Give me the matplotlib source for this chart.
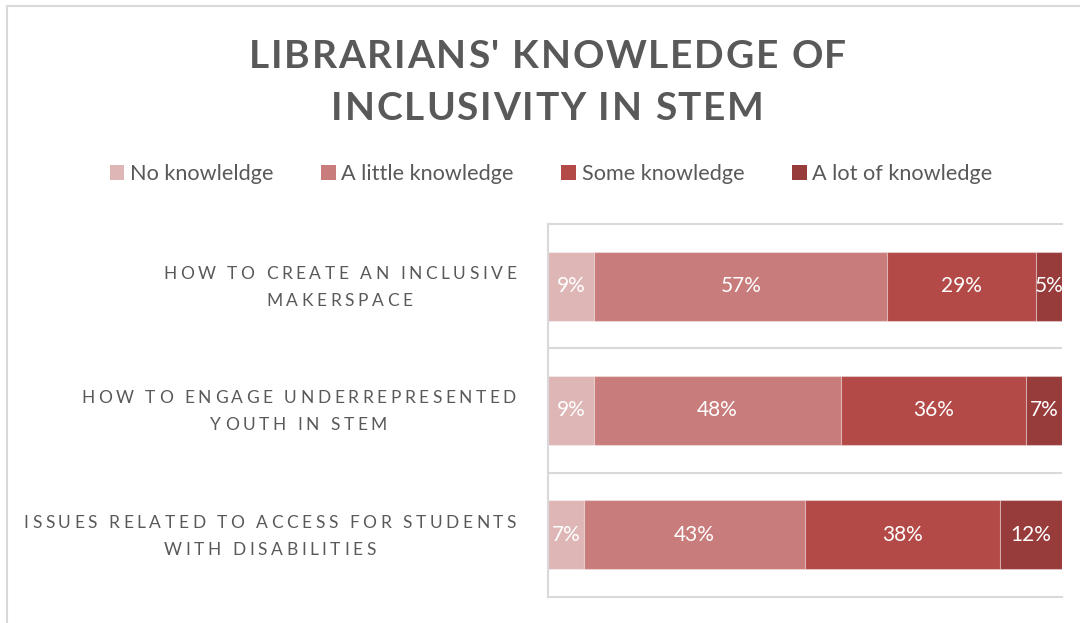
import matplotlib
matplotlib.use("Agg")
import matplotlib.pyplot as plt
from matplotlib.text import Text
from matplotlib.font_manager import FontProperties, findfont, get_font
from matplotlib.transforms import IdentityTransform, Bbox, offset_copy
from matplotlib.patches import Patch, Rectangle

# ---- data -------------------------------------------------------------
title = "LIBRARIANS' KNOWLEDGE OF\nINCLUSIVITY IN STEM"
categories = [
    "HOW TO CREATE AN INCLUSIVE\nMAKERSPACE",
    "HOW TO ENGAGE UNDERREPRESENTED\nYOUTH IN STEM",
    "ISSUES RELATED TO ACCESS FOR STUDENTS\nWITH DISABILITIES",
]
series_names = ["No knowleldge", "A little knowledge", "Some knowledge", "A lot of knowledge"]
no_knowledge = [9, 9, 7]
a_little = [57, 48, 43]
some = [29, 36, 38]
a_lot = [5, 7, 12]
series_values = [no_knowledge, a_little, some, a_lot]
series_colors = ["#DFB6B6", "#C97C7C", "#B34A48", "#983B3B"]

TEXT_GREY = "#595959"
LINE_GREY = "#D9D9D9"
FONT = "Lato"


class TrackedText(Text):
    """Multi-line text with extra letter spacing; each line is centred in the block."""

    def __init__(self, x, y, text, tracking=0.0, block_ha="center", line_pitch=None, **kw):
        kw.setdefault("ha", block_ha)
        kw.setdefault("va", "center")
        kw.setdefault("multialignment", "center")
        super().__init__(x, y, text, **kw)
        self._tracking = tracking
        self._block_ha = block_ha
        self._line_pitch = line_pitch

    def _advances(self, line, dpi):
        fp = self.get_fontproperties()
        font = get_font(findfont(fp))
        font.set_size(fp.get_size_in_points(), dpi)
        return [font.load_char(ord(ch)).linearHoriAdvance / 65536 for ch in line]

    def _glyph_layout(self, dpi):
        fp = self.get_fontproperties()
        px = fp.get_size_in_points() * dpi / 72
        pitch = self._line_pitch if self._line_pitch is not None else 1.35 * px
        x0, y0 = self.get_transform().transform(self.get_unitless_position())
        lines = self.get_text().split("\n")
        advs = [self._advances(ln, dpi) for ln in lines]
        widths = [sum(a) + self._tracking * (len(a) - 1) for a in advs]
        block = max(widths)
        if self._block_ha == "right":
            left = x0 - block
        elif self._block_ha == "left":
            left = x0
        else:
            left = x0 - block / 2
        cap = 0.7165 * px
        n = len(lines)
        glyphs = []
        for i, (ln, a, w) in enumerate(zip(lines, advs, widths)):
            base = y0 + (n - 1) / 2 * pitch - i * pitch - cap / 2
            x = left + (block - w) / 2
            for ch, adv in zip(ln, a):
                if not ch.isspace():
                    glyphs.append((x, base, ch))
                x += adv + self._tracking
        top = y0 + (n - 1) / 2 * pitch + cap / 2
        bottom = y0 - (n - 1) / 2 * pitch - cap / 2 - 0.2 * px
        return glyphs, Bbox([[left, bottom], [left + block, top]])

    def get_window_extent(self, renderer=None, dpi=None):
        fig = self.get_figure(root=True)
        if dpi is None:
            dpi = fig.dpi
        return self._glyph_layout(dpi)[1]

    def draw(self, renderer):
        if not self.get_visible() or not self.get_text():
            return
        fig = self.get_figure(root=True)
        fp = self.get_fontproperties()
        glyphs, _ = self._glyph_layout(renderer.dpi)
        for x, base, ch in glyphs:
            t = Text(x, base, ch, transform=IdentityTransform(),
                     fontproperties=fp, color=self.get_color(),
                     ha="left", va="baseline")
            t.set_figure(fig)
            t.draw(renderer)


W, H = 1080, 623
fig = plt.figure(figsize=(W / 100, H / 100), dpi=100)
fig.patch.set_facecolor("white")

# chart area outline
fig.add_artist(Rectangle((7 / W, -0.1), 1.2, (H - 6) / H + 0.1, transform=fig.transFigure,
                         fill=False, edgecolor=LINE_GREY, lw=1.5))

ax = fig.add_axes([548 / W, (H - 597) / H, 514 / W, 373 / H])
ypos = list(range(len(categories)))
left = [0] * len(categories)
for name, vals, col in zip(series_names, series_values, series_colors):
    bars = ax.barh(ypos, vals, left=left, height=0.556, color=col,
                   edgecolor=(1, 1, 1, 0.35), linewidth=0.8, label=name)
    ax.bar_label(bars, labels=[f"{v}%" for v in vals], label_type="center",
                 color="white", fontsize=15, fontfamily=FONT)
    left = [l + v for l, v in zip(left, vals)]

ax.set_xlim(0, 100)
ax.set_ylim(len(categories) - 0.5, -0.5)
ax.set_xticks([])
ax.set_yticks(ypos)
ax.set_yticklabels([])
ax.tick_params(axis="y", length=0)
ax.set_yticks([i + 0.5 for i in ypos[:-1]], minor=True)
ax.tick_params(axis="y", which="minor", length=0)
ax.grid(which="minor", axis="y", color=LINE_GREY, lw=1.5)
for side in ("top", "bottom", "left"):
    ax.spines[side].set_color(LINE_GREY)
    ax.spines[side].set_linewidth(1.5)
ax.spines["right"].set_visible(False)

# category labels, right-aligned just left of the axis
label_tf = offset_copy(ax.get_yaxis_transform(), fig=fig, x=-32, y=0, units="dots")
for i, cat in zip(ypos, categories):
    fig.add_artist(TrackedText(0, i, cat, tracking=3.55, block_ha="right", line_pitch=27,
                               transform=label_tf, color=TEXT_GREY,
                               fontproperties=FontProperties(family=FONT, size=12.5)))

# title
fig.add_artist(TrackedText(547.5 / W, 1 - 80 / H, title, tracking=1.8, block_ha="center",
                           line_pitch=52.5, transform=fig.transFigure, color=TEXT_GREY,
                           fontproperties=FontProperties(family=FONT, size=28, weight="bold")))

# legend
handles = [Patch(facecolor=c, edgecolor="none") for c in series_colors]
fig.legend(handles, series_names, loc="center", bbox_to_anchor=(551 / W, 1 - 174 / H),
           ncol=4, frameon=False, handlelength=0.68, handleheight=0.68,
           handletextpad=0.25, columnspacing=2.2, labelcolor=TEXT_GREY,
           prop=FontProperties(family=FONT, size=15.6))

fig.savefig("out.png", dpi=100)
